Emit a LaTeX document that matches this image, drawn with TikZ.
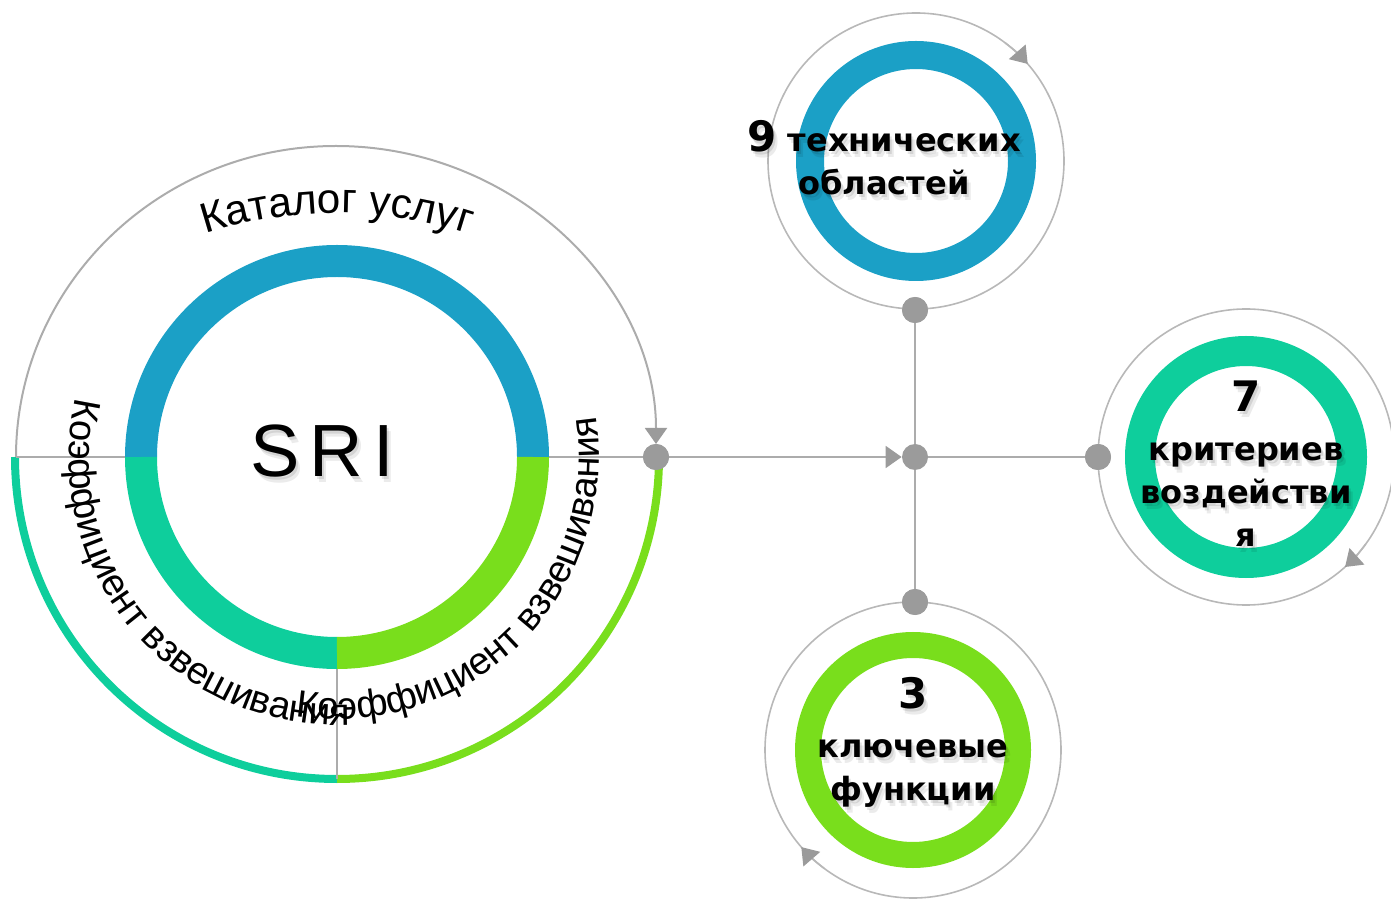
\documentclass[tikz,border=0pt]{standalone}
\usepackage{fontspec}
\setmainfont{Liberation Sans}
\newfontfamily\lblfont{DejaVu Sans}
\usetikzlibrary{arrows.meta,decorations.text,calc}

\definecolor{sriblue}{RGB}{27,160,198}
\definecolor{sriteal}{RGB}{14,206,156}
\definecolor{srigreen}{RGB}{121,222,28}
\definecolor{linkgray}{RGB}{172,172,172}
\definecolor{dotgray}{RGB}{155,155,155}

\tikzset{
  link/.style={draw=linkgray, line width=1pt},
  orbit/.style={draw=linkgray!85, line width=0.8pt, circle, outer sep=0pt, inner sep=0pt},
  hub/.style={circle, fill=dotgray, minimum size=13pt, inner sep=0pt},
  tip/.style={-{Triangle[length=8pt,width=11pt,color=dotgray]}},
  cnt/.style={font=\lblfont\bfseries\fontsize{16}{21.5}\selectfont, align=center, inner sep=0pt},
  bignum/.style={font=\fontsize{37}{40}\selectfont, inner sep=0pt},
}

% text with a soft shadow: style, name, position, text
\newcommand{\shadowed}[4]{%
  \node[#1, text=black, opacity=.10] at ($(#3)+(2,-3)$) {#4};
  \node[#1, text=black, opacity=.08] at ($(#3)+(4,-6)$) {#4};
  \node[#1] (#2) at (#3) {#4};}

\begin{document}
\begin{tikzpicture}[x=0.5pt,y=0.5pt]
\useasboundingbox (0,0) rectangle (1391,900);

% SRI ring
\coordinate (sri) at (337,443);
\coordinate (west) at ($(sri)+(-321,0)$);
\coordinate (ringW) at ($(sri)+(-212,0)$);
\coordinate (ringE) at ($(sri)+(212,0)$);
\coordinate (ringS) at ($(sri)+(0,-212)$);
\coordinate (south) at ($(sri)+(0,-322)$);
\coordinate (cat) at (337,262);

\draw[sriblue, line width=16pt] ($(sri)+(196,0)$) arc[start angle=0, end angle=180, radius=196];
\draw[sriteal, line width=16pt] ($(sri)+(-196,0)$) arc[start angle=180, end angle=270, radius=196];
\draw[srigreen, line width=16pt] ($(sri)+(0,-196)$) arc[start angle=270, end angle=360, radius=196];

\draw[sriteal, line width=4pt] ($(sri)+(-322,0)$) arc[start angle=180, end angle=270, radius=322];
\draw[srigreen, line width=4pt] (south) arc[start angle=270, end angle=360, radius=322];

\draw[link] (west) -- (ringW);
\draw[link] (ringS) -- (south);

% hubs
\node[hub] (gate) at (656,443) {};
\node[hub] (cross) at (915,443) {};
\node[hub] (up) at (915,590) {};
\node[hub] (down) at (915,298) {};
\node[hub] (side) at (1098,443) {};

\draw[link, tip, shorten >=6.5pt] (west) arc[start angle=180, end angle=0, x radius=320, y radius=311];
\draw[link] (ringE) -- (gate);
\draw[link, tip] (gate) -- (cross);
\draw[link] (cross) -- (up);
\draw[link] (cross) -- (down);
\draw[link] (cross) -- (side);

% satellites
\node[orbit, minimum size=148pt] (techorb) at (916,739) {};
\node[orbit, minimum size=148pt] (critorb) at (1246,443) {};
\node[orbit, minimum size=148pt] (funcorb) at (913,150) {};
\draw[sriblue, line width=14pt] (techorb) circle[radius=106];
\draw[sriteal, line width=15pt] (critorb) circle[radius=106];
\draw[srigreen, line width=13pt] (funcorb) circle[radius=105];
\draw[orbit, tip] (techorb.53) arc[start angle=53, end angle=41, radius=148];
\draw[orbit, tip] (critorb.-36) arc[start angle=-36, end angle=-48, radius=148];
\draw[orbit, tip] (funcorb.233) arc[start angle=233, end angle=221, radius=148];
\node[hub] at (up) {};
\node[hub] at (down) {};
\node[hub] at (side) {};
\node[hub] at (gate) {};

% labels
\shadowed{bignum}{sritext}{322,449}{S\hspace{5pt}R\hspace{5pt}I}
\shadowed{cnt}{techtext}{884,742}{{\fontsize{21}{21}\selectfont 9} технических\\областей}
\shadowed{cnt}{crittext}{1246,436}{{\fontsize{21}{21}\selectfont 7}\\[3pt]критериев\\воздействи\\я}
\shadowed{cnt}{functext}{913,158}{{\fontsize{21}{21}\selectfont 3}\\[3pt]ключевые\\функции}

% curved labels
\begin{scope}[shift={(2,-3)}, opacity=.2]
\path[decorate, decoration={text along path, text align=center,
  text={|\fontsize{21}{21}\selectfont|Каталог услуг}}]
  ($(cat)+(120:425)$) arc[start angle=120, end angle=60, radius=425];
\path[decorate, decoration={text along path, text align=center,
  text={|\fontsize{19}{19}\selectfont|Коэффициент взвешивания}}]
  ($(sri)+(150:268)$) arc[start angle=150, end angle=290, radius=268];
\path[decorate, decoration={text along path, text align=center,
  text={|\fontsize{19}{19}\selectfont|Коэффициент взвешивания}}]
  ($(sri)+(245:262)$) arc[start angle=245, end angle=385, radius=262];
\end{scope}
\path[decorate, decoration={text along path, text align=center,
  text={|\fontsize{21}{21}\selectfont|Каталог услуг}}]
  ($(cat)+(120:425)$) arc[start angle=120, end angle=60, radius=425];
\path[decorate, decoration={text along path, text align=center,
  text={|\fontsize{19}{19}\selectfont|Коэффициент взвешивания}}]
  ($(sri)+(150:268)$) arc[start angle=150, end angle=290, radius=268];
\path[decorate, decoration={text along path, text align=center,
  text={|\fontsize{19}{19}\selectfont|Коэффициент взвешивания}}]
  ($(sri)+(245:262)$) arc[start angle=245, end angle=385, radius=262];
\end{tikzpicture}
\end{document}
